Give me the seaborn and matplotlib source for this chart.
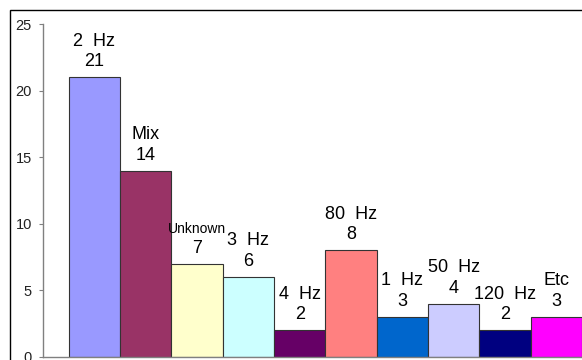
import matplotlib
matplotlib.use("Agg")
import matplotlib.pyplot as plt
import seaborn as sns
import pandas as pd
from matplotlib.patches import Rectangle

categories = ["2  Hz", "Mix", "Unknown", "3  Hz", "4  Hz", "80  Hz", "1  Hz", "50  Hz", "120  Hz", "Etc"]
values = [21, 14, 7, 6, 2, 8, 3, 4, 2, 3]
colors = ["#9999FF", "#993366", "#FFFFCC", "#CCFFFF", "#660066",
          "#FF8080", "#0066CC", "#CCCCFF", "#000080", "#FF00FF"]
yticks = [0, 5, 10, 15, 20, 25]

sns.set_theme(style="white")
plt.rcParams['font.family'] = ['Liberation Sans', 'DejaVu Sans']

df = pd.DataFrame({"cat": categories, "val": values})

fig = plt.figure(figsize=(5.82, 3.6), dpi=100)
ax = fig.add_axes([43 / 582, 3 / 360, 1 - 43 / 582 + 0.01, (357 - 24) / 360])

sns.barplot(data=df, x="cat", y="val", hue="cat", palette=colors, dodge=False,
            width=1.0, edgecolor="#333333", linewidth=0.8, legend=False, ax=ax,
            saturation=1)

ax.set_xlim(-1.0, 9.5 + 0.01 * 582 / 51.3)
ax.set_ylim(0, 25)
ax.set_yticks(yticks)
ax.set_xticks([])
ax.set_xlabel("")
ax.set_ylabel("")

for sp in ["top", "right"]:
    ax.spines[sp].set_visible(False)
for sp in ["left", "bottom"]:
    ax.spines[sp].set_color("#808080")
    ax.spines[sp].set_linewidth(1.0)

ax.tick_params(axis="y", which="both", left=True, length=3, width=0.8,
               color="#808080", pad=5, labelsize=10.5, labelcolor="#222222")

for container, cat, val in zip(ax.containers, categories, values):
    ax.bar_label(container, labels=[f"{val}"], padding=5,
                 fontsize=13, color="black")
    size = 10 if cat == "Unknown" else 13
    ax.bar_label(container, labels=[cat], padding=20,
                 fontsize=size, color="black")

fig.patches.append(Rectangle((10 / 582, -0.05), 1.1, 1 - 10 / 360 + 0.05,
                             transform=fig.transFigure, fill=False,
                             edgecolor="black", linewidth=1.0))

fig.savefig("out.png", dpi=100)
